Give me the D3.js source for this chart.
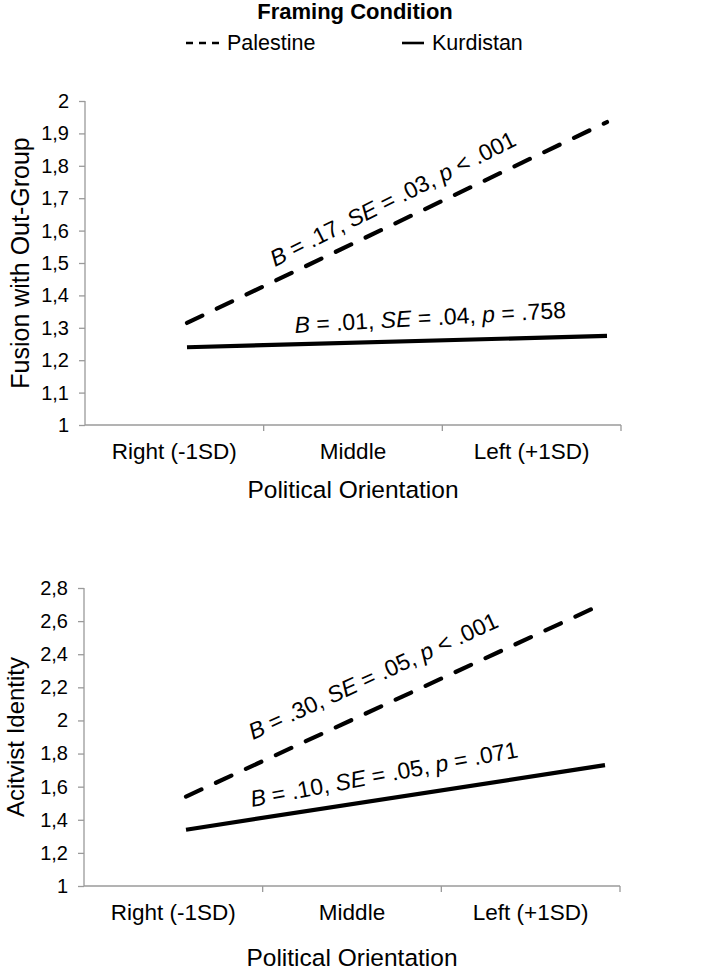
<!DOCTYPE html>
<html><head><meta charset="utf-8">
<script src="https://cdn.jsdelivr.net/npm/d3@7/dist/d3.min.js"></script>
<style>
body{margin:0;background:#fff;}
text{font-family:"Liberation Sans",Arial,sans-serif;fill:#000;}
</style>
</head><body>
<svg id="c" width="709" height="973"></svg>
<script>
// ---------- data ----------
const categories = ["Right (-1SD)", "Middle", "Left (+1SD)"];
const seriesNames = ["Palestine", "Kurdistan"];
const orientationSD = [-1, 1];                 // x of line end points (Right -1SD, Left +1SD)
const fusionPalestine = [1.315, 1.935];
const fusionKurdistan = [1.24, 1.275];
const activistPalestine = [1.54, 2.71];
const activistKurdistan = [1.34, 1.73];
const fusionTicks = [1, 1.1, 1.2, 1.3, 1.4, 1.5, 1.6, 1.7, 1.8, 1.9, 2];
const activistTicks = [1, 1.2, 1.4, 1.6, 1.8, 2, 2.2, 2.4, 2.6, 2.8];
const fusionNotes = [
  [["B", 1], [" = .17, ", 0], ["SE", 1], [" = .03, ", 0], ["p", 1], [" < .001", 0]],
  [["B", 1], [" = .01, ", 0], ["SE", 1], [" = .04, ", 0], ["p", 1], [" = .758", 0]]
];
const activistNotes = [
  [["B", 1], [" = .30, ", 0], ["SE", 1], [" = .05, ", 0], ["p", 1], [" < .001", 0]],
  [["B", 1], [" = .10, ", 0], ["SE", 1], [" = .05, ", 0], ["p", 1], [" = .071", 0]]
];
const yTitles = ["Fusion with Out-Group", "Acitvist Identity"];
const xTitle = "Political Orientation";
const legendTitle = "Framing Condition";

// ---------- layout ----------
const svg = d3.select("#c");
const fmt = v => (Math.round(v * 10) / 10).toString().replace(".", ",");
const axisColor = "#9a9a9a";

const panels = [
  { x0: 85, x1: 621, yTop: 101, yBot: 425, dom: [1, 2], ticks: fusionTicks,
    pal: fusionPalestine, kur: fusionKurdistan, notes: fusionNotes, title: yTitles[0],
    lx0: 187, lx1: 607, titleX: 29, titleSize: 25, xTitleDy: 73,
    notePos: [{sd: -0.581, v: 1.488, ang: -26.7}, {sd: -0.486, v: 1.284, ang: -3.2}] },
  { x0: 84, x1: 620, yTop: 588, yBot: 886, dom: [1, 2.8], ticks: activistTicks,
    pal: activistPalestine, kur: activistKurdistan, notes: activistNotes, title: yTitles[1],
    lx0: 186, lx1: 605, titleX: 24, titleSize: 24, xTitleDy: 80,
    notePos: [{sd: -0.68, v: 1.882, ang: -24.7}, {sd: -0.685, v: 1.477, ang: -10.6}] }
];

panels.forEach(p => {
  const g = svg.append("g");
  const y = d3.scaleLinear().domain(p.dom).range([p.yBot, p.yTop]);
  const xb = d3.scaleBand().domain(categories).range([p.x0, p.x1]);
  const xl = d3.scaleLinear().domain(orientationSD).range([p.lx0, p.lx1]);

  // y axis
  const ya = g.append("g").attr("transform", `translate(${p.x0},0)`)
    .call(d3.axisLeft(y).tickValues(p.ticks).tickFormat(fmt).tickSize(6).tickPadding(10));
  ya.select(".domain").attr("stroke", axisColor).attr("stroke-width", 1.3).attr("d", `M0,${p.yTop}V${p.yBot}`);
  ya.selectAll(".tick line").attr("stroke", axisColor).attr("stroke-width", 1.3);
  ya.selectAll(".tick text").style("font-size", "20px").attr("fill", "#000");

  // x axis (labels at band centres, ticks at band edges)
  const xa = g.append("g").attr("transform", `translate(0,${p.yBot})`)
    .call(d3.axisBottom(xb).tickSize(0).tickPadding(18));
  xa.select(".domain").attr("stroke", axisColor).attr("stroke-width", 1.3).attr("d", `M${p.x0},0H${p.x1}`);
  xa.selectAll(".tick text").style("font-size", "22.5px").attr("fill", "#000");
  g.append("g").selectAll("line").data(categories).join("line")
    .attr("x1", d => xb(d) + xb.bandwidth()).attr("x2", d => xb(d) + xb.bandwidth())
    .attr("y1", p.yBot).attr("y2", p.yBot + 6)
    .attr("stroke", axisColor).attr("stroke-width", 1.3);

  // axis titles
  g.append("text").attr("x", (p.x0 + p.x1) / 2).attr("y", p.yBot + p.xTitleDy)
    .attr("text-anchor", "middle").style("font-size", "24.5px").text(xTitle);
  g.append("text").attr("transform", `translate(${p.titleX},${(p.yTop + p.yBot) / 2}) rotate(-90)`)
    .attr("text-anchor", "middle").style("font-size", p.titleSize + "px").text(p.title);

  // lines
  const line = d3.line().x((d, i) => xl(orientationSD[i])).y(d => y(d));
  g.append("path").datum(p.pal).attr("d", line).attr("fill", "none")
    .attr("stroke", "#000").attr("stroke-width", 4.2).attr("stroke-dasharray", "17,16")
    .attr("stroke-linecap", "round");
  g.append("path").datum(p.kur).attr("d", line).attr("fill", "none")
    .attr("stroke", "#000").attr("stroke-width", 4.2);

  // annotations
  p.notes.forEach((parts, k) => {
    const np = p.notePos[k];
    const t = g.append("text")
      .attr("transform", `translate(${xl(np.sd)},${y(np.v)}) rotate(${np.ang})`)
      .style("font-size", "23px");
    parts.forEach(([s, it]) => t.append("tspan").text(s).style("font-style", it ? "italic" : "normal"));
  });
});

// ---------- legend ----------
svg.append("text").attr("x", 355).attr("y", 19).attr("text-anchor", "middle")
  .style("font-size", "22px").style("font-weight", "bold").text(legendTitle);
const leg = svg.append("g");
const legItems = [{ name: seriesNames[0], x: 186, w: 33, dash: "7,6" }, { name: seriesNames[1], x: 402, w: 22, dash: null }];
legItems.forEach(it => {
  leg.append("line").attr("x1", it.x).attr("x2", it.x + it.w)
    .attr("y1", 43).attr("y2", 43).attr("stroke", "#000").attr("stroke-width", 2.6)
    .attr("stroke-dasharray", it.dash);
  leg.append("text").attr("x", it.x + it.w + 8).attr("y", 50)
    .style("font-size", "21.5px").text(it.name);
});
</script>
</body></html>
